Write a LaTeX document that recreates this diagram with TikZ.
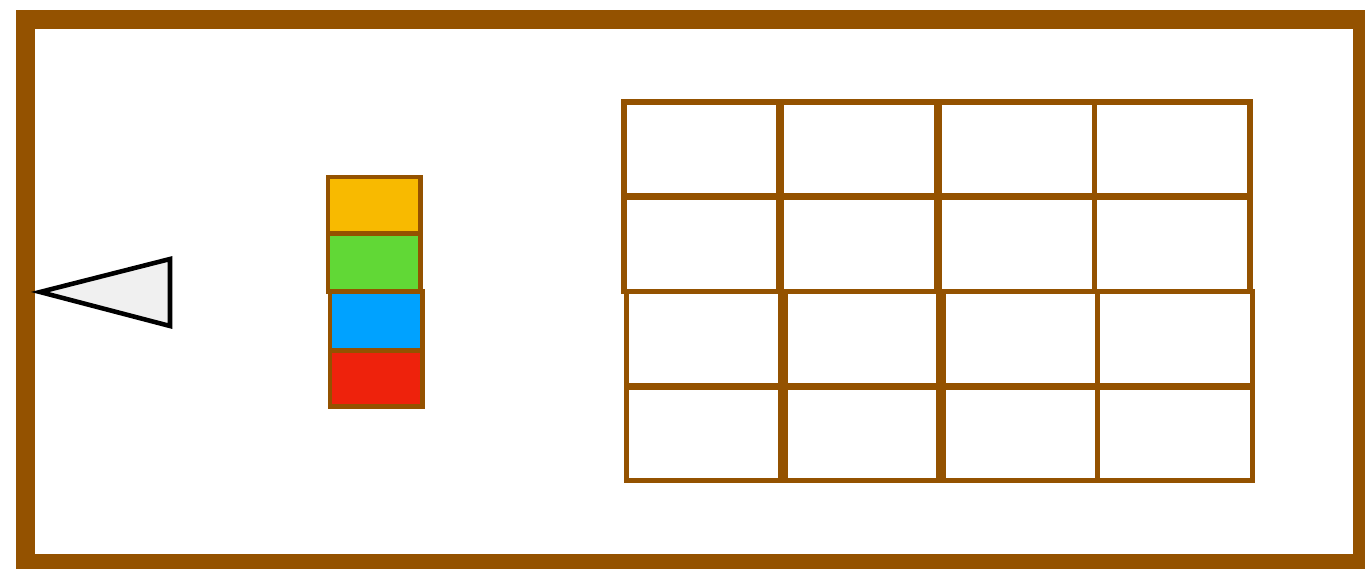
\documentclass[tikz,border=0pt]{standalone}
\usepackage{xcolor}
\usepackage{tikz}

\definecolor{mocha}{HTML}{945200}
\definecolor{keyyellow}{HTML}{F8BA00}
\definecolor{keygreen}{HTML}{61D836}
\definecolor{keyblue}{HTML}{00A2FF}
\definecolor{keyred}{HTML}{EE220C}
\definecolor{pointergray}{HTML}{F0F0F0}

\tikzset{
  frameline/.style={draw=mocha, line width=10.8pt},
  cell/.style={draw=mocha, line width=3pt},
  stackbox/.style={draw=mocha, line width=2.8pt},
  pointer/.style={draw=black, fill=pointergray, line width=2.6pt}
}

\begin{document}
\begin{tikzpicture}[x=0.02cm, y=-0.02cm]
  \useasboundingbox (0,0) rectangle (1365,568);
  \clip (0,0) rectangle (1365,568);
  % ---------- outer frame ----------
  \draw[frameline] (25.5,19.5) rectangle (1362,563);
  % ---------- pointer at the left wall ----------
  \draw[pointer] (40,292) -- (170,259) -- (170,326) -- cycle;
  % ---------- the stack of four blocks ----------
  \draw[stackbox, fill=keyyellow] (328,177) rectangle (420.5,233.5);
  \draw[stackbox, fill=keygreen] (328,233.5) rectangle (420.5,291.5);
  \draw[stackbox, fill=keyblue] (330,291.5) rectangle (422.5,350.5);
  \draw[stackbox, fill=keyred] (330,350.5) rectangle (422.5,406.5);
  % ---------- the 4x4 grid, upper half ----------
  \foreach \ya/\yb in {102/195.5, 197.5/291.5}
    \foreach \xa/\xb in {624/778.5, 781.5/937, 939/1094.5, 1094.5/1250}
      \draw[cell] (\xa,\ya) rectangle (\xb,\yb);
  % ---------- lower half, shifted a little ----------
  \foreach \ya/\yb in {291.5/385.5, 387.5/480.5}
    \foreach \xa/\xb in {626.5/781, 785/939, 943/1097.5, 1097.5/1252.5}
      \draw[cell] (\xa,\ya) rectangle (\xb,\yb);
\end{tikzpicture}
\end{document}
